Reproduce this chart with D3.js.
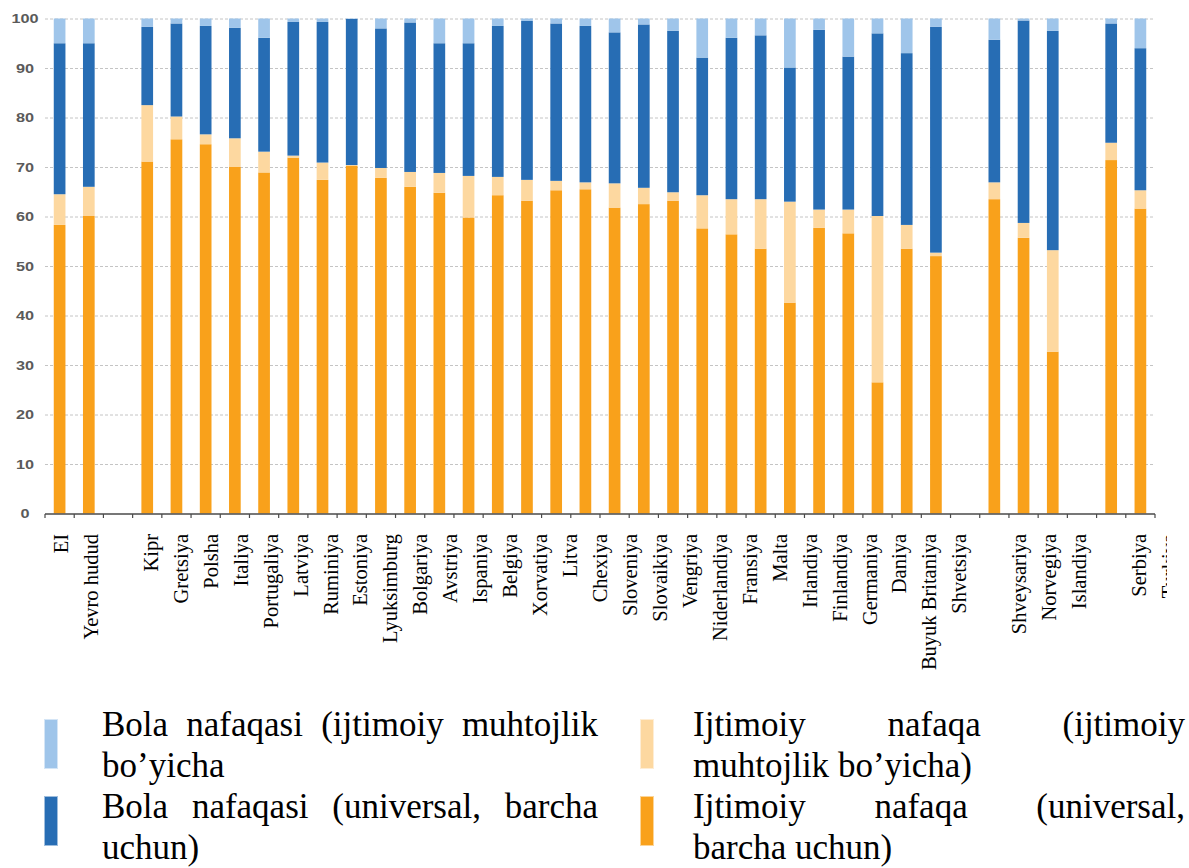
<!DOCTYPE html>
<html>
<head>
<meta charset="utf-8">
<script src="https://cdn.jsdelivr.net/npm/d3@7"></script>
<style>
  body { margin: 0; background: #fff; }
  svg { display: block; }
</style>
</head>
<body>
<svg id="chart" width="1189" height="868"></svg>
<script>
// slots along the x axis ("" = empty gap between groups)
var categories = ["EI", "Yevro hudud", "",
  "Kipr", "Gretsiya", "Polsha", "Italiya", "Portugaliya", "Latviya", "Ruminiya",
  "Estoniya", "Lyuksimburg", "Bolgariya", "Avstriya", "Ispaniya", "Belgiya",
  "Xorvatiya", "Litva", "Chexiya", "Sloveniya", "Slovaikiya", "Vengriya",
  "Niderlandiya", "Fransiya", "Malta", "Irlandiya", "Finlandiya", "Germaniya",
  "Daniya", "Buyuk Britaniya", "Shvetsiya", "",
  "Shveysariya", "Norvegiya", "Islandiya", "",
  "Serbiya", "Turkiya"];

// Ijtimoiy nafaqa (universal, barcha uchun)
var socialUniversal = [58.3, 60.1, 0, 71.1, 75.6, 74.6, 70.0, 68.9, 71.9, 67.4,
  70.2, 67.8, 66.0, 64.8, 59.8, 64.3, 63.2, 65.3, 65.5, 61.8, 62.5, 63.2,
  57.6, 56.4, 53.5, 42.6, 57.7, 56.6, 26.5, 53.5, 52.0, 0,
  63.5, 55.7, 32.7, 0, 71.4, 61.6];
// Ijtimoiy nafaqa (ijtimoiy muhtojlik bo'yicha)
var socialMeans = [6.2, 5.9, 0, 11.4, 4.6, 2.0, 5.8, 4.2, 0.4, 3.5,
  0.2, 2.0, 3.0, 4.0, 8.4, 3.7, 4.2, 1.9, 1.4, 4.9, 3.3, 1.7,
  6.7, 7.1, 10.0, 20.4, 3.7, 4.8, 33.6, 4.8, 0.7, 0,
  3.4, 3.0, 20.5, 0, 3.5, 3.7];
// Bola nafaqasi (universal, barcha uchun)
var childUniversal = [30.5, 29.0, 0, 15.8, 18.8, 21.9, 22.3, 23.0, 27.0, 28.4,
  29.5, 28.2, 30.2, 26.2, 26.8, 30.5, 32.1, 31.8, 31.6, 30.5, 33.0, 32.6,
  27.8, 32.6, 33.1, 27.1, 36.3, 30.9, 36.9, 34.7, 45.6, 0,
  28.8, 40.9, 44.3, 0, 24.1, 28.7];
// Bola nafaqasi (ijtimoiy muhtojlik bo'yicha)
var childMeans = [5.0, 5.0, 0, 1.7, 1.0, 1.5, 1.9, 3.9, 0.7, 0.7,
  0.1, 2.0, 0.8, 5.0, 5.0, 1.5, 0.5, 1.0, 1.5, 2.8, 1.2, 2.5,
  7.9, 3.9, 3.4, 9.9, 2.3, 7.7, 3.0, 7.0, 1.7, 0,
  4.3, 0.4, 2.5, 0, 1.0, 6.0];

var yTicks = [0, 10, 20, 30, 40, 50, 60, 70, 80, 90, 100];

var keys = ["socialUniversal", "socialMeans", "childUniversal", "childMeans"];
var colors = ["#F9A11B", "#FDD8A0", "#276DB4", "#9FC5EA"];

// legend: order and line breaks as in the picture
var legendKeys = ["childMeans", "childUniversal", "socialMeans", "socialUniversal"];
var legendLines = [
  ["Bola nafaqasi (ijtimoiy muhtojlik", "bo’yicha"],
  ["Bola nafaqasi (universal, barcha", "uchun)"],
  ["Ijtimoiy nafaqa (ijtimoiy", "muhtojlik bo’yicha)"],
  ["Ijtimoiy nafaqa (universal,", "barcha uchun)"]
];

var svg = d3.select("#chart");
var slots = categories.map(function(d, i) { return "s" + i; });

var table = categories.map(function(c, i) {
  return {
    slot: slots[i], name: c,
    socialUniversal: socialUniversal[i], socialMeans: socialMeans[i],
    childUniversal: childUniversal[i], childMeans: childMeans[i]
  };
});

var x = d3.scaleBand().domain(slots).range([45, 1155]).padding(0);
var y = d3.scaleLinear().domain([0, 100]).range([513.5, 18.5]);
var color = d3.scaleOrdinal().domain(keys).range(colors);
// the translated labels sit on a slightly wider step than the bars
var labelX = d3.scaleLinear().domain([0, categories.length - 1]).range([61, 1169]);

// grid
svg.append("g")
  .selectAll("line")
  .data(yTicks.filter(function(t) { return t > 0; }))
  .join("line")
    .attr("x1", 45).attr("x2", 1155)
    .attr("y1", function(d) { return y(d) + 0.5; })
    .attr("y2", function(d) { return y(d) + 0.5; })
    .attr("stroke", "#c4c4c4")
    .attr("stroke-width", 1)
    .attr("stroke-dasharray", "3,2");

// y tick labels (stretched a bit, like the scanned chart)
svg.append("g")
  .selectAll("text")
  .data(yTicks)
  .join("text")
    .attr("transform", function(d) { return "translate(25," + y(d) + ") scale(1.3,1)"; })
    .attr("dy", "0.36em")
    .attr("text-anchor", "middle")
    .attr("font-family", "Liberation Sans, Arial, sans-serif")
    .attr("font-weight", "bold")
    .attr("font-size", 12.5)
    .attr("fill", "#5a5a5a")
    .text(function(d) { return d; });

// stacked bars
var series = d3.stack().keys(keys)(table);
var bw = x.bandwidth() * 0.4;

svg.append("g")
  .selectAll("g")
  .data(series)
  .join("g")
    .attr("fill", function(d) { return color(d.key); })
  .selectAll("rect")
  .data(function(d) { return d.filter(function(p) { return p[1] - p[0] > 0; }); })
  .join("rect")
    .attr("x", function(d) { return x(d.data.slot) + (x.bandwidth() - bw) / 2; })
    .attr("width", bw)
    .attr("y", function(d) { return y(d[1]); })
    .attr("height", function(d) { return y(d[0]) - y(d[1]); });

// x axis with ticks on the band edges
var axis = svg.append("g");
axis.append("line")
  .attr("x1", 45).attr("x2", 1155)
  .attr("y1", 514).attr("y2", 514)
  .attr("stroke", "#4a4a4a").attr("stroke-width", 1.5);
var edges = slots.map(function(s) { return x(s); }).concat([x.range()[1]]);
axis.selectAll("line.tick")
  .data(edges)
  .join("line")
    .attr("class", "tick")
    .attr("x1", function(d) { return d; }).attr("x2", function(d) { return d; })
    .attr("y1", 514).attr("y2", 518)
    .attr("stroke", "#4a4a4a").attr("stroke-width", 1.2);

// category labels, the last one is cut by the picture edge
svg.append("clipPath").attr("id", "labclip")
  .append("rect").attr("x", 0).attr("y", 0).attr("width", 1167).attr("height", 868);

svg.append("g")
  .attr("clip-path", "url(#labclip)")
  .selectAll("text")
  .data(table.filter(function(d) { return d.name !== ""; }))
  .join("text")
    .attr("transform", function(d) {
      var i = categories.indexOf(d.name);
      return "translate(" + labelX(i) + ",534) rotate(-90)";
    })
    .attr("text-anchor", "end")
    .attr("dominant-baseline", "central")
    .attr("font-family", "Liberation Serif, Times New Roman, serif")
    .attr("font-size", 20.5)
    .attr("fill", "#000")
    .text(function(d) { return d.name; });

// legend, two columns with justified text
var colText = [102, 693], colWidth = [496, 492], colSwatch = [45, 641];
var rowBase = [736, 818], rowSwatch = [720, 797], lineStep = 41;

legendKeys.forEach(function(k, li) {
  var col = li < 2 ? 0 : 1;
  var row = li % 2;
  var g = svg.append("g");

  g.append("rect")
    .attr("x", colSwatch[col] - 1).attr("y", rowSwatch[row] - 1)
    .attr("width", 14).attr("height", 50)
    .attr("fill", color(k)).attr("opacity", 0.45);
  g.append("rect")
    .attr("x", colSwatch[col]).attr("y", rowSwatch[row])
    .attr("width", 12).attr("height", 48)
    .attr("fill", color(k));

  var lines = legendLines[li];
  lines.forEach(function(line, j) {
    var words = line.split(" ");
    var by = rowBase[row] + j * lineStep;
    var t = g.selectAll(null)
      .data(words)
      .enter().append("text")
        .attr("y", by)
        .attr("font-family", "Liberation Serif, Times New Roman, serif")
        .attr("font-size", 35)
        .attr("fill", "#000")
        .text(function(d) { return d; });
    var widths = [];
    t.each(function() { widths.push(this.getComputedTextLength()); });
    var total = d3.sum(widths);
    var last = j === lines.length - 1;
    var gap = (!last && words.length > 1) ? (colWidth[col] - total) / (words.length - 1) : 0.25 * 35;
    var pos = colText[col];
    t.attr("x", function(d, i) {
      var p = pos;
      pos += widths[i] + gap;
      return p;
    });
  });
});
</script>
</body>
</html>
